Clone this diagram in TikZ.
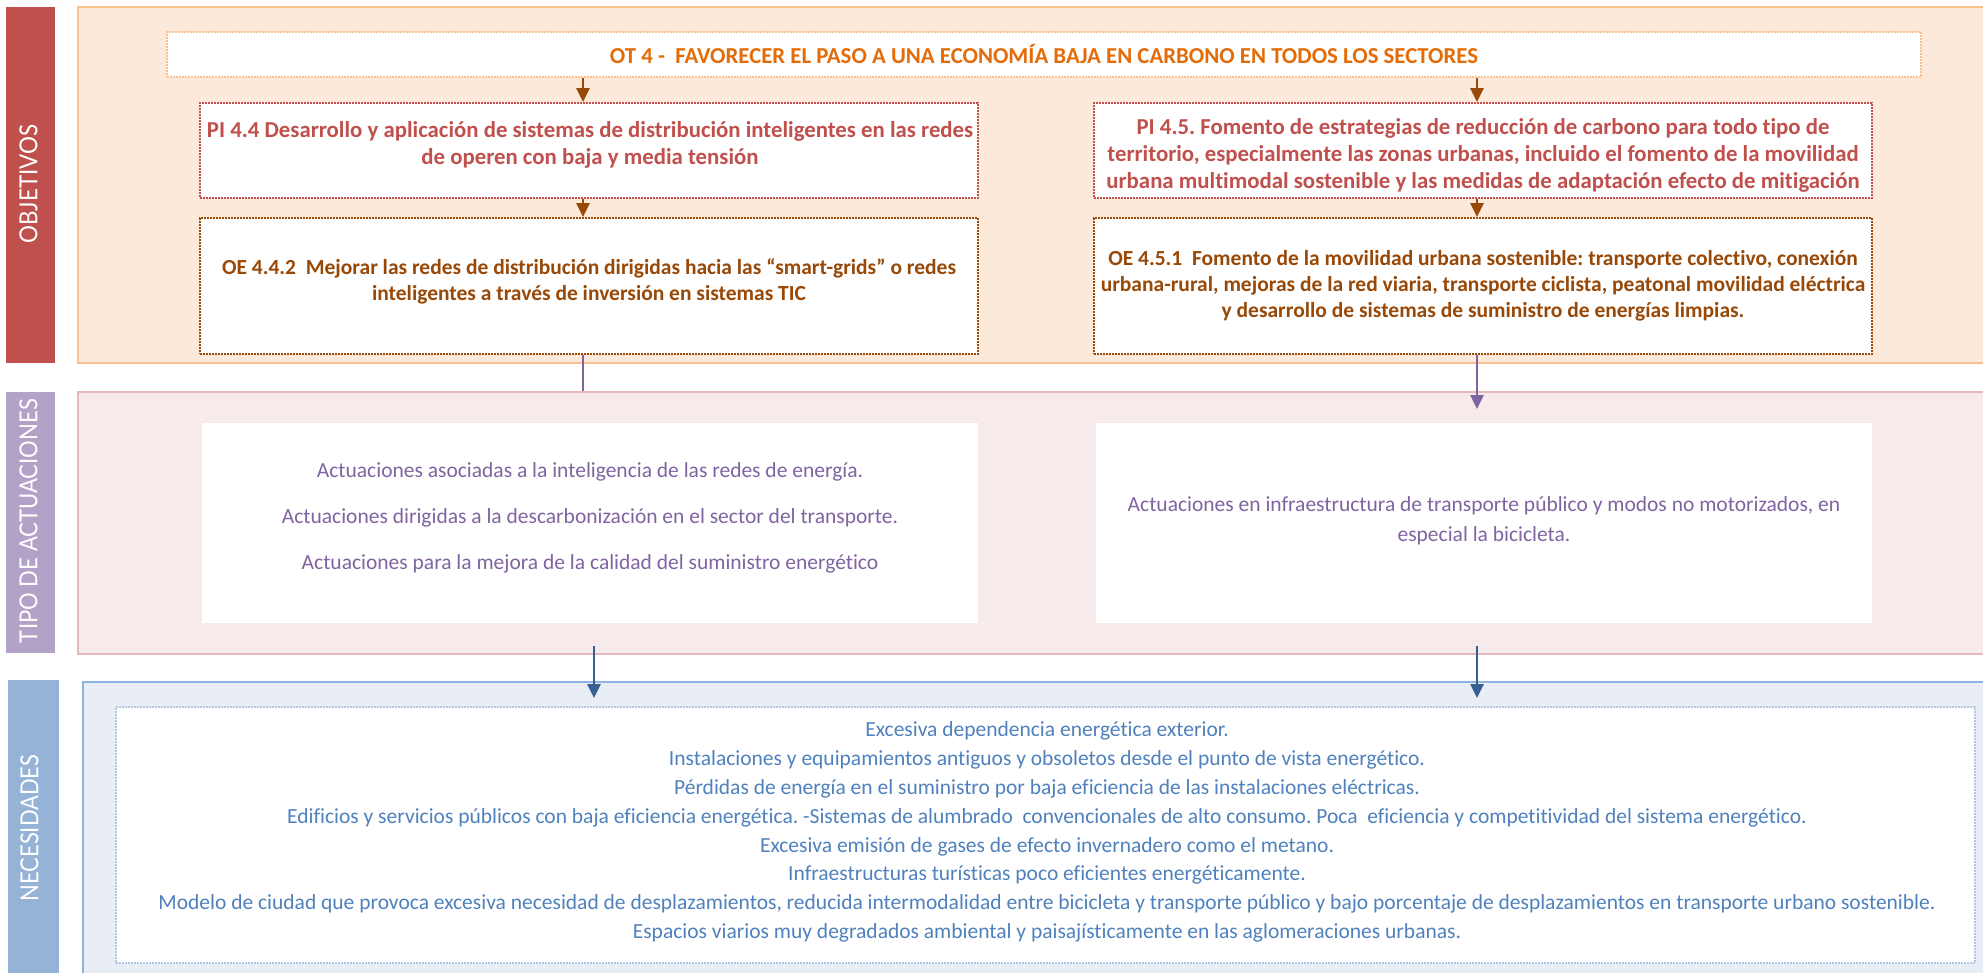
\documentclass[tikz,border=0pt]{standalone}
\usepackage{fontspec}
\setmainfont{Carlito}[Ligatures=NoCommon]
\newfontfamily\sidefont{Lato}
\usetikzlibrary{arrows.meta}
\frenchspacing
\definecolor{objred}{HTML}{C0504D}
\definecolor{orfill}{HTML}{FDE9D9}
\definecolor{orline}{HTML}{F9C090}
\definecolor{ottext}{HTML}{E36C09}
\definecolor{brown}{HTML}{984807}
\definecolor{lav}{HTML}{B3A2C7}
\definecolor{pkfill}{HTML}{F7EAEA}
\definecolor{pkline}{HTML}{E6B9B8}
\definecolor{purp}{HTML}{8064A2}
\definecolor{dblue}{HTML}{376092}
\definecolor{nbar}{HTML}{95B3D7}
\definecolor{blfill}{HTML}{E9EEF6}
\definecolor{blline}{HTML}{8EB4E3}
\definecolor{dotblue}{HTML}{B4C7E0}
\definecolor{btext}{HTML}{4F81BD}
\tikzset{
  sidebar/.style={draw=none, inner sep=0pt},
  sidelabel/.style={text=white, inner sep=0pt, rotate=90},
  panel/.style={inner sep=0pt, line width=2.5pt},
  dotbox/.style={fill=white, inner sep=0pt, line width=1.8pt, dash pattern=on 1.6pt off 1.4pt},
  whitebox/.style={fill=white, draw=none, inner sep=0pt},
  boldtxt/.style={font=\bfseries\fontsize{22.8}{27}\selectfont, align=center, inner sep=0pt},
  oetxt/.style={font=\bfseries\fontsize{21.5}{26}\selectfont, align=center, inner sep=0pt, text=brown},
  arrb/.style={draw=brown, line width=2.6pt, -{Triangle[length=14pt,width=13pt]}},
  arrp/.style={draw=purp, line width=2.6pt, -{Triangle[length=14pt,width=13pt]}},
  linep/.style={draw=purp, line width=2.6pt},
  arrd/.style={draw=dblue, line width=2.6pt, -{Triangle[length=14pt,width=13pt]}},
}
\begin{document}
\begin{tikzpicture}[x=1pt,y=-1pt]
\useasboundingbox (0,0) rectangle (1983,972);
% side bars
\node[sidebar, fill=objred, minimum width=49, minimum height=356] (bobj) at (30.5,185) {};
\node[sidebar, fill=lav, minimum width=49, minimum height=261] (btipo) at (30.5,522.5) {};
\node[sidebar, fill=nbar, minimum width=51, minimum height=310] (bnec) at (33.5,835) {};
\node[sidelabel] (lobj) at (28.5,184) {\resizebox{119pt}{18pt}{\sidefont OBJETIVOS}};
\node[sidelabel] (ltipo) at (28.5,521) {\resizebox{244pt}{18pt}{\sidefont TIPO DE ACTUACIONES}};
\node[sidelabel] (lnec) at (29.5,828) {\resizebox{147pt}{18pt}{\sidefont NECESIDADES}};
% panels
\node[panel, fill=orfill, draw=orline, minimum width=1930, minimum height=356] (pobj) at (1043,185) {};
\node[panel, fill=pkfill, draw=pkline, minimum width=1930, minimum height=262] (ptipo) at (1043,523) {};
\node[panel, fill=blfill, draw=blline, minimum width=1925, minimum height=320] (pnec) at (1045.5,842) {};
% objectives boxes
\node[dotbox, draw=orline, minimum width=1754, minimum height=45] (ot4) at (1044,54.5) {};
\node[boldtxt, text=ottext] (tot4) at (1044,54.5) {OT 4 -\ \ FAVORECER EL PASO A UNA ECONOMÍA BAJA EN CARBONO EN TODOS LOS SECTORES};
\node[dotbox, draw=objred, minimum width=778, minimum height=95] (pi44) at (589,150.5) {};
\node[dotbox, draw=objred, minimum width=778, minimum height=95] (pi45) at (1483,150.5) {};
\node[dotbox, draw=brown, minimum width=778, minimum height=136] (oe442) at (589,286) {};
\node[dotbox, draw=brown, minimum width=778, minimum height=136] (oe451) at (1483,286) {};
\node[boldtxt, text=objred] (tpi44) at (590,145) {PI 4.4 Desarrollo y aplicación de sistemas de distribución inteligentes en las redes\\de operen con baja y media tensión};
\node[boldtxt, text=objred] (tpi45) at (1483,155) {PI 4.5. Fomento de estrategias de reducción de carbono para todo tipo de\\territorio, especialmente las zonas urbanas, incluido el fomento de la movilidad\\urbana multimodal sostenible y las medidas de adaptación efecto de mitigación};
\node[oetxt] (toe442) at (589,281) {OE 4.4.2\ \ Mejorar las redes de distribución dirigidas hacia las “smart-grids” o redes\\inteligentes a través de inversión en sistemas TIC};
\node[oetxt] (toe451) at (1483,286) {OE 4.5.1\ \ Fomento de la movilidad urbana sostenible: transporte colectivo, conexión\\urbana-rural, mejoras de la red viaria, transporte ciclista, peatonal movilidad eléctrica\\y desarrollo de sistemas de suministro de energías limpias.};
% actuaciones boxes
\node[whitebox, minimum width=776, minimum height=200] (act1) at (590,523) {};
\node[whitebox, minimum width=776, minimum height=200] (act2) at (1484,523) {};
\node[font=\fontsize{21.5}{46}\selectfont, text=purp, align=center, inner sep=0pt] (tact1) at (590,518) {Actuaciones asociadas a la inteligencia de las redes de energía.\\Actuaciones dirigidas a la descarbonización en el sector del transporte.\\Actuaciones para la mejora de la calidad del suministro energético};
\node[font=\fontsize{21.5}{30}\selectfont, text=purp, align=center, inner sep=0pt] (tact2) at (1484,521) {Actuaciones en infraestructura de transporte público y modos no motorizados, en\\especial la bicicleta.};
% necesidades
\node[dotbox, draw=dotblue, line width=1.4pt, minimum width=1859, minimum height=256] (nec) at (1045.5,835) {};
\node[font=\fontsize{21.5}{28.8}\selectfont, text=btext, align=center, inner sep=0pt] (tnec) at (1047,832) {Excesiva dependencia energética exterior.\\Instalaciones y equipamientos antiguos y obsoletos desde el punto de vista energético.\\Pérdidas de energía en el suministro por baja eficiencia de las instalaciones eléctricas.\\Edificios y servicios públicos con baja eficiencia energética. -Sistemas de alumbrado\ \ convencionales de alto consumo. Poca\ \ eficiencia y competitividad del sistema energético.\\Excesiva emisión de gases de efecto invernadero como el metano.\\Infraestructuras turísticas poco eficientes energéticamente.\\Modelo de ciudad que provoca excesiva necesidad de desplazamientos, reducida intermodalidad entre bicicleta y transporte público y bajo porcentaje de desplazamientos en transporte urbano sostenible.\\Espacios viarios muy degradados ambiental y paisajísticamente en las aglomeraciones urbanas.};
% connectors
\coordinate (xl) at (583,0);
\coordinate (xr) at (1477,0);
\coordinate (tipR) at (1477,409);
\coordinate (dL0) at (594,646);
\coordinate (dL1) at (594,698);
\coordinate (dR0) at (1477,646);
\coordinate (dR1) at (1477,698);
\draw[arrb] (xl |- ot4.south) -- (xl |- pi44.north);
\draw[arrb] (xr |- ot4.south) -- (xr |- pi45.north);
\draw[arrb] (xl |- pi44.south) -- (xl |- oe442.north);
\draw[arrb] (xr |- pi45.south) -- (xr |- oe451.north);
\draw[linep] (xl |- oe442.south) -- (xl |- ptipo.north);
\draw[arrp] (xr |- oe451.south) -- (tipR);
\draw[arrd] (dL0) -- (dL1);
\draw[arrd] (dR0) -- (dR1);
\end{tikzpicture}
\end{document}
